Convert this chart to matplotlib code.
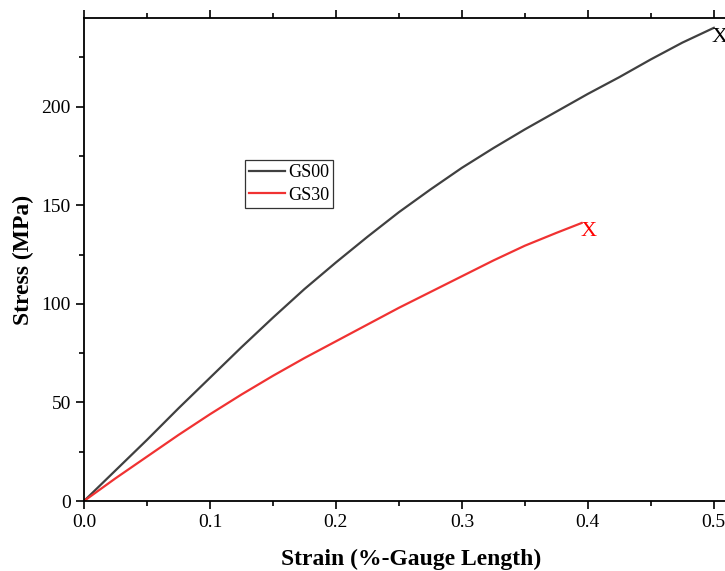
import matplotlib
matplotlib.use("Agg")
import matplotlib.pyplot as plt
from matplotlib.ticker import MultipleLocator

# strain (fraction) vs stress (MPa)
gs00_strain = [0.0, 0.025, 0.05, 0.075, 0.1, 0.125, 0.15, 0.175, 0.2, 0.225, 0.25,
               0.275, 0.3, 0.325, 0.35, 0.375, 0.4, 0.425, 0.45, 0.475, 0.5]
gs00_stress = [0.0, 15.5, 31.0, 47.0, 62.5, 78.0, 93.0, 107.5, 121.0, 134.0, 146.5,
               158.0, 169.0, 179.0, 188.5, 197.5, 206.5, 215.0, 224.0, 232.5, 240.0]
gs30_strain = [0.0, 0.025, 0.05, 0.075, 0.1, 0.125, 0.15, 0.175, 0.2, 0.225, 0.25,
               0.275, 0.3, 0.325, 0.35, 0.375, 0.395]
gs30_stress = [0.0, 11.5, 22.5, 33.5, 44.0, 54.0, 63.5, 72.5, 81.0, 89.5, 98.0,
               106.0, 114.0, 122.0, 129.5, 136.0, 141.0]

plt.rcParams["font.family"] = ["Liberation Serif", "DejaVu Serif"]

fig = plt.figure(figsize=(7.25, 5.71), dpi=100)
ax = fig.add_axes([84 / 725, 70 / 571, 655 / 725, 483 / 571])

ax.plot(gs00_strain, gs00_stress, color="#404040", lw=1.6, label="GS00")
ax.plot(gs30_strain, gs30_stress, color="#f03232", lw=1.6, label="GS30")

# failure markers
ax.annotate("X", (gs00_strain[-1], gs00_stress[-1]), xytext=(-2, 0), textcoords="offset points",
            ha="left", va="top", fontsize=16, color="black")
ax.annotate("X", (gs30_strain[-1], gs30_stress[-1]), xytext=(-1, 1), textcoords="offset points",
            ha="left", va="top", fontsize=16, color="red")

ax.set_xlim(0, 0.52)
ax.set_ylim(0, 245)
ax.xaxis.set_major_locator(MultipleLocator(0.1))
ax.xaxis.set_minor_locator(MultipleLocator(0.05))
ax.yaxis.set_major_locator(MultipleLocator(50))
ax.yaxis.set_minor_locator(MultipleLocator(25))
ax.xaxis.set_major_formatter(lambda v, p: f"{v:.1f}")

ax.tick_params(which="both", direction="out", top=True, right=False, width=1.2, labelsize=14)
ax.tick_params(which="major", length=6)
ax.tick_params(which="minor", length=3.5)
ax.spines["right"].set_visible(False)
for s in ("left", "bottom", "top"):
    ax.spines[s].set_linewidth(1.3)

ax.set_xlabel("Strain (%-Gauge Length)", fontsize=17, fontweight="bold", labelpad=13)
ax.set_ylabel("Stress (MPa)", fontsize=17, fontweight="bold", labelpad=5)

leg = ax.legend(loc="upper left", bbox_to_anchor=(0.246, 0.706), fontsize=13, frameon=True,
                fancybox=False, edgecolor="black", borderpad=0.22, handlelength=2.0,
                labelspacing=0.32, handletextpad=0.15, borderaxespad=0)
leg.get_frame().set_linewidth(0.9)

fig.savefig("out.png", dpi=100)
